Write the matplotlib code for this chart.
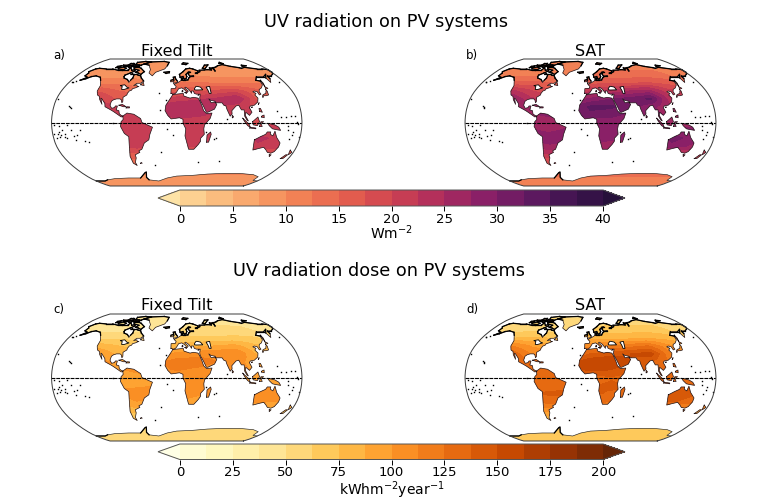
import numpy as np
import matplotlib
matplotlib.use("Agg")
import matplotlib.pyplot as plt
from matplotlib.colors import LinearSegmentedColormap, BoundaryNorm
from matplotlib.cm import ScalarMappable
from matplotlib.path import Path
from matplotlib.patches import PathPatch

LATS = [90, 70, 60, 50, 40, 30, 20, 10, 0, -10, -20, -30, -40, -50, -70, -90]
LONS = [-180, -150, -120, -90, -60, -30, 0, 30, 60, 90, 120, 150, 180]

FIXED_W = [
 [7, 7, 7, 7, 7, 7, 7, 7, 7, 7, 7, 7, 7],
 [8, 8, 8, 8, 8, 8, 8, 8.5, 8.5, 8.5, 8.5, 8, 8],
 [9, 9, 9, 9, 9, 9, 10, 10, 9.5, 9.5, 9.5, 9, 9],
 [11, 11, 12, 12, 11, 12, 13, 13, 12.5, 12.5, 12.5, 12, 11],
 [14, 14, 17, 15, 14, 15, 17, 17, 18, 19, 16, 15, 14],
 [18, 18, 21, 17, 17, 19, 21, 22, 23, 25, 17, 17, 18],
 [20, 20, 21, 21, 20, 23, 25, 25, 23, 21, 19, 19, 20],
 [20, 20, 20, 20, 21, 22, 24, 23, 22, 21, 20, 20, 20],
 [20, 20, 20, 20, 20, 20, 20, 21, 20, 19, 19, 20, 20],
 [21, 21, 21, 21, 20, 21, 21, 22, 21, 21, 21, 21, 21],
 [21, 21, 21, 21, 22, 22, 22, 21, 21, 21, 23, 22, 21],
 [19, 19, 19, 20, 21, 20, 21, 20, 20, 20, 22, 21, 19],
 [16, 16, 16, 17, 17, 17, 17, 17, 17, 17, 17, 17, 16],
 [13, 13, 13, 13, 14, 13, 13, 13, 13, 13, 13, 13, 13],
 [9.5, 9.5, 9.5, 9.5, 9.5, 9.5, 9.5, 9.5, 9.5, 9.5, 9.5, 9.5, 9.5],
 [9.5, 9.5, 9.5, 9.5, 9.5, 9.5, 9.5, 9.5, 9.5, 9.5, 9.5, 9.5, 9.5],
]
SAT_W = [
 [9, 9, 9, 9, 9, 9, 9, 9, 9, 9, 9, 9, 9],
 [11, 11, 11, 11, 11, 11, 11, 12, 12, 12, 12, 11, 11],
 [12, 12, 12, 12, 12, 12, 13, 14, 14, 14, 14, 12, 12],
 [15, 15, 16, 16, 15, 16, 17, 17, 17, 18, 17, 16, 15],
 [18, 18, 23, 20, 18, 20, 22, 23, 25, 26, 21, 19, 18],
 [24, 24, 28, 23, 22, 25, 28, 30, 31, 33, 23, 22, 24],
 [27, 27, 28, 27, 26, 30, 33, 33, 31, 28, 25, 25, 27],
 [27, 27, 27, 27, 28, 29, 32, 31, 29, 28, 27, 27, 27],
 [27, 27, 27, 26, 26, 27, 27, 28, 27, 26, 26, 27, 27],
 [28, 28, 28, 28, 27, 28, 28, 29, 28, 28, 28, 28, 28],
 [28, 28, 28, 28, 29, 29, 29, 28, 28, 28, 31, 29, 28],
 [25, 25, 25, 26, 27, 26, 27, 26, 26, 26, 29, 27, 25],
 [20, 20, 20, 22, 22, 22, 22, 22, 22, 22, 22, 22, 20],
 [17, 17, 17, 17, 18, 17, 17, 17, 17, 17, 17, 17, 17],
 [12.5, 12.5, 12.5, 12.5, 12.5, 12.5, 12.5, 12.5, 12.5, 12.5, 12.5, 12.5, 12.5],
 [12.5, 12.5, 12.5, 12.5, 12.5, 12.5, 12.5, 12.5, 12.5, 12.5, 12.5, 12.5, 12.5],
]
FIXED_D = [
 [38, 38, 38, 38, 38, 38, 38, 38, 38, 38, 38, 38, 38],
 [42, 42, 42, 42, 42, 42, 42, 48, 48, 48, 48, 42, 42],
 [48, 48, 48, 48, 48, 48, 52, 54, 54, 55, 54, 48, 48],
 [55, 55, 58, 60, 58, 60, 65, 65, 65, 66, 66, 60, 55],
 [68, 68, 82, 75, 70, 75, 82, 84, 88, 92, 78, 72, 68],
 [88, 88, 100, 85, 84, 92, 104, 108, 110, 112, 85, 85, 88],
 [98, 98, 102, 100, 98, 110, 118, 118, 112, 102, 95, 95, 98],
 [98, 98, 98, 98, 102, 108, 114, 110, 106, 102, 98, 98, 98],
 [98, 98, 98, 96, 96, 98, 98, 100, 98, 95, 95, 98, 98],
 [100, 100, 100, 100, 98, 100, 102, 106, 102, 100, 100, 100, 100],
 [100, 100, 100, 100, 104, 104, 106, 102, 102, 102, 110, 104, 100],
 [92, 92, 92, 96, 100, 98, 100, 96, 96, 96, 104, 100, 92],
 [78, 78, 78, 82, 84, 82, 84, 82, 82, 82, 84, 82, 78],
 [62, 62, 62, 62, 66, 64, 64, 64, 64, 64, 64, 64, 62],
 [55, 55, 55, 55, 55, 55, 55, 55, 55, 55, 55, 55, 55],
 [55, 55, 55, 55, 55, 55, 55, 55, 55, 55, 55, 55, 55],
]
SAT_D = [
 [45, 45, 45, 45, 45, 45, 45, 45, 45, 45, 45, 45, 45],
 [54, 54, 54, 54, 54, 54, 54, 60, 60, 60, 60, 54, 54],
 [60, 60, 60, 60, 60, 60, 66, 70, 70, 72, 70, 60, 60],
 [72, 72, 76, 78, 74, 78, 84, 84, 84, 86, 84, 78, 72],
 [88, 88, 112, 98, 90, 98, 108, 112, 120, 126, 104, 94, 88],
 [116, 116, 136, 112, 108, 122, 138, 146, 150, 156, 112, 108, 116],
 [130, 130, 136, 130, 128, 146, 160, 160, 150, 136, 122, 122, 130],
 [130, 130, 130, 130, 136, 142, 154, 150, 140, 136, 130, 130, 130],
 [130, 130, 130, 126, 126, 130, 130, 136, 130, 126, 126, 130, 130],
 [134, 134, 134, 134, 130, 134, 136, 140, 136, 134, 134, 134, 134],
 [134, 134, 134, 134, 140, 140, 140, 136, 136, 136, 150, 140, 134],
 [122, 122, 122, 126, 132, 128, 132, 126, 126, 126, 140, 132, 122],
 [98, 98, 98, 106, 108, 106, 108, 106, 106, 106, 108, 106, 98],
 [82, 82, 82, 82, 86, 84, 84, 84, 84, 84, 84, 84, 82],
 [68, 68, 68, 68, 68, 68, 68, 68, 68, 68, 68, 68, 68],
 [68, 68, 68, 68, 68, 68, 68, 68, 68, 68, 68, 68, 68],
]

NORTH_AMERICA = [(-168,66),(-162,70),(-156,71),(-141,70),(-128,70),(-115,68),(-108,68),(-96,68),(-94,72),(-88,68),(-82,69),(-81,67),(-87,64),(-94,61),(-94,59),(-92,57),(-85,55),(-82,53),(-80,51),(-79,54),(-77,57),(-78,62),(-73,62),(-70,61),(-65,60),(-62,57),(-56,53),(-60,50),(-66,50),(-70,47),(-65,48),(-64,46),(-61,46),(-66,44),(-70,43),(-71,41),(-74,40),(-76,37),(-76,35),(-81,32),(-80,27),(-81,25),(-83,29),(-85,30),(-90,30),(-94,29),(-97,27),(-98,22),(-95,18),(-91,19),(-90,21),(-87,21),(-88,16),(-84,15),(-83,11),(-80,9),(-77,8),(-80,7),(-85,10),(-92,14),(-96,16),(-105,20),(-106,24),(-112,30),(-114,31),(-110,23),(-115,29),(-117,33),(-121,35),(-124,40),(-124,47),(-130,54),(-135,58),(-145,60),(-152,59),(-158,56),(-165,54),(-158,58),(-165,60),(-165,64)]
SOUTH_AMERICA = [(-78,8),(-72,12),(-62,10.5),(-52,5),(-50,0),(-35,-6),(-39,-15),(-41,-22),(-48,-26),(-53,-34),(-58,-36),(-57,-38),(-65,-41),(-65,-45),(-69,-51),(-68,-55),(-73,-52),(-74,-43),(-71,-30),(-70,-18),(-76,-14),(-81,-5),(-80,1),(-77,4)]
EURASIA = [(-9,37),(-9,43),(-2,43.5),(-1,46),(-4.5,48.5),(2,51),(4,52),(8,54),(8,57),(10.5,57),(10,54),(14,54),(19,54.5),(21,57),(24,59),(30,60),(23,60),(21,63),(25,65.5),(22,65.5),(17,62),(18,59),(16,56),(13,55.5),(11,59),(6,58),(5,62),(12,66),(18,70),(26,71),(32,70),(41,67),(40,65),(35,64),(38,64),(44,66),(44,68),(54,68.5),(60,69),(68,68.5),(67,72),(73,72),(74,67),(75,72),(81,73),(87,75),(100,77),(113,74),(128,72),(131,71),(140,72.5),(160,70),(170,70),(180,69),(180,65),(178,63),(170,60),(163,60),(162,56),(157,51),(156,57),(163,62),(155,59),(142,59),(135,54),(141,53),(140,48),(135,44),(130,42),(128,39),(129,36),(126,35),(125,39),(121,40),(118,39),(122,37),(119,35),(122,31),(120,26),(114,22),(108,21),(106,19),(109,13),(105,9),(100,13),(99,9),(103,2),(101,3),(98,8),(98,16),(94,16),(91,22),(87,21),(80,15),(80,11),(77,8),(73,17),(72,21),(69,22),(67,25),(58,25),(57,27),(51,28),(48,30),(51,25),(56,26),(59,23),(55,17),(45,13),(43,13),(39,21),(35,28),(34.5,31),(36,36),(30,36),(27,37),(26,40),(23,40),(23,37),(19,42),(14,45),(12.5,44),(18,40),(16,38),(12,42),(8,44),(3,43),(0,39),(-2,37),(-5,36)]
AFRICA = [(-6,35.5),(10,37),(11,33.5),(20,31),(25,32),(32,31),(34,28),(37,21),(39,15),(43,11.5),(51,12),(48,5),(40,-3),(39,-8),(40,-15),(35,-20),(35,-24),(32,-28),(26,-34),(18,-34),(12,-17),(13,-8),(9,-1),(9,4),(4,6),(-8,4.5),(-13,9),(-17,15),(-16,22),(-10,30)]
AUSTRALIA = [(114,-22),(122,-18),(129,-15),(131,-12),(136,-12),(136,-15),(140,-17),(142,-11),(146,-19),(153,-26),(153,-31),(150,-37),(146,-39),(140,-38),(136,-35),(131,-31.5),(124,-33),(116,-35),(115,-31)]
ANTARCTICA = [(-180,-90),(-180,-78),(-160,-78),(-150,-76),(-130,-74),(-100,-73),(-75,-73),(-60,-65),(-57,-64),(-62,-72),(-60,-76),(-40,-78),(-20,-73),(0,-70),(30,-69),(60,-67),(90,-66),(120,-66),(150,-68),(165,-71),(168,-77),(180,-78),(180,-90)]
GREENLAND = [(-73,78),(-60,76),(-52,69),(-52,64),(-44,60),(-40,65),(-24,70),(-20,75),(-18,81),(-30,83),(-60,82)]
ISLANDS = [
 [(-80,73),(-72,71),(-62,66),(-66,62),(-72,64),(-78,65),(-74,68),(-85,70),(-89,73)],
 [(-117,70),(-105,69),(-102,71),(-110,73),(-118,72)],
 [(-125,72),(-118,73),(-118,75),(-124,74)],
 [(-90,76),(-78,76),(-62,82),(-75,83),(-92,81)],
 [(-95,75),(-80,75),(-82,76.5),(-92,77)],
 [(-115,75),(-105,75),(-106,76.5),(-116,76.5)],
 [(-100,73),(-96,72),(-94,74),(-100,75)],
 [(-105,77),(-96,77),(-98,79),(-104,79)],
 [(-82,63),(-80,62),(-84,62)],
 [(12,78),(20,77),(25,79),(15,80)],
 [(52,71),(57,70.5),(68,76.5),(60,76)],
 [(96,79),(105,78.5),(100,81)],
 [(138,74),(148,75),(140,76)],
 [(-24,65),(-14,66),(-14,64.5),(-20,63.5)],
 [(-5,50),(1,51),(1,53),(-2,56),(-3,58.5),(-6,58),(-5,54),(-5,52)],
 [(-10,52),(-6,52),(-6,55),(-10,54)],
 [(-85,22),(-80,23),(-74,20),(-78,20)],
 [(-74,18.5),(-69,18.5),(-69,19.8),(-73,20)],
 [(-59,48),(-53,47),(-56,51.5)],
 [(130,32),(132,34),(136,34),(140,35),(141,40),(140,41),(137,37),(132,35.5),(130,33.5)],
 [(140,42),(145,43.5),(142,45.5)],
 [(142,46),(143.5,50),(143,54),(142,53)],
 [(120,23),(122,25),(121,25)],
 [(109,19),(111,19.5),(110,20)],
 [(120,14),(124,13),(122,18),(120,18)],
 [(122,7),(126,6),(126,9.5),(123,8.5)],
 [(95,5.5),(104,-2),(106,-6),(102,-4),(97,2)],
 [(105,-7),(114,-8),(114,-7),(106,-6)],
 [(109,1),(117,7),(119,1),(116,-4),(110,-3)],
 [(119,-5),(121,1),(125,1),(121,-1),(123,-5)],
 [(131,-1),(141,-3),(147,-6),(150,-10),(143,-9),(138,-8),(133,-4)],
 [(80,6),(82,7),(80,9.5)],
 [(44,-25),(47,-25),(50,-15),(49,-12),(44,-16)],
 [(173,-35),(178,-38),(175,-41),(174,-39)],
 [(167,-46),(171,-46),(174,-41),(171,-41)],
 [(145,-41),(148,-41),(147,-43.5)],
 [(12.5,38),(15.5,38),(15,36.8)],
 [(8.3,39),(9.7,39),(9.5,41),(8.5,41)],
 [(32.5,34.7),(34.5,35.3),(33,35.3)],
 [(-61,-52),(-58,-52),(-59,-51)],
]
LAKES = [
 [(28,41.5),(31,41.3),(41,41.5),(38,45),(33,46),(31,46),(28,43)],
 [(47,45),(53,46),(53,37),(50,37),(49,41)],
 [(-92,47),(-85,48),(-80,45),(-76,44),(-83,42),(-87,42),(-88,46)],
]
DOT_LON = [-156,-155,-158,-91,-28,-16,-24,57,55,70,-37,165,178,160,167,150,158,165,145,-172,-170,-165,-160,-150,-145,-140,-175,-178,-158,-152,-170,-176,-163,-148,-135,-130,73,-175,172,173,-178,175,170,-170,-5,-14,-25,36,43,-170,-176,160,168,-162,-168]
DOT_LAT = [20,19,21,0,38,28,16,-20,-21,-49,-54,-21,-18,-9,-16,7,7,8,15,-14,-5,-10,-20,-17,-16,-9,-20,-15,-3,-10,-12,-3,-19,-22,-24,-25,4,52,52,1,30,-2,8,-18,-16,-8,-38,-50,-12,53,52,-5,-12,-14,-16]

TITLES = ["UV radiation on PV systems", "UV radiation dose on PV systems"]
PANELS = ["a)", "b)", "c)", "d)"]
SUBS = ["Fixed Tilt", "SAT", "Fixed Tilt", "SAT"]
MATTER = ["#fde3a6", "#fbc283", "#f8a167", "#f27f54", "#e55f4e", "#cf4351", "#b02e5c", "#8c2067", "#651a63", "#3f1450", "#26103a"]
TICKS_W = [0, 5, 10, 15, 20, 25, 30, 35, 40]
TICKS_D = [0, 25, 50, 75, 100, 125, 150, 175, 200]

W, H = 763, 500
RX = [1,0.9986,0.9954,0.99,0.9822,0.973,0.96,0.9427,0.9216,0.8962,0.8679,0.835,0.7986,0.7597,0.7186,0.6732,0.6213,0.5722,0.5322]
RY = [0,0.062,0.124,0.186,0.248,0.31,0.372,0.434,0.4958,0.5571,0.6176,0.6769,0.7346,0.7903,0.8435,0.8936,0.9394,0.9761,1.0]
RL = np.arange(0, 95, 5)
XM, YM = 0.8487*np.pi, 1.3523


def proj(lon, lat):
    lon, lat = np.asarray(lon, float), np.asarray(lat, float)
    a = np.abs(lat)
    return XM*np.interp(a, RL, RX)*lon/180, YM*np.interp(a, RL, RY)*np.sign(lat)


def project_poly(pts):
    p = np.array(pts, float)
    x, y = proj(p[:, 0], p[:, 1])
    return np.column_stack([x, y])


LAND = [NORTH_AMERICA, SOUTH_AMERICA, EURASIA, AFRICA, AUSTRALIA, ANTARCTICA, GREENLAND] + ISLANDS
fine_lon = np.linspace(-180, 180, 361)
fine_lat = np.linspace(-90, 90, 181)


def refine(table):
    t = np.array(table, float)[::-1]
    lat = np.array(LATS, float)[::-1]
    a = np.array([np.interp(fine_lat, lat, t[:, j]) for j in range(t.shape[1])]).T
    return np.array([np.interp(fine_lon, LONS, row) for row in a])


def draw_coast(ax, poly):
    p = np.array(list(poly) + [poly[0]], float)
    q = project_poly(p)
    if poly is ANTARCTICA:
        ax.plot(q[1:-2, 0], q[1:-2, 1], color="#222222", lw=0.45)
        ax.plot(q[1:4, 0], q[1:4, 1], color="black", lw=0.9)
        ax.plot(q[6:11, 0], q[6:11, 1], color="black", lw=0.9)
        return
    limit = 74 if poly is GREENLAND else 52
    ax.plot(q[:, 0], q[:, 1], color="#1c1014", lw=0.5)
    for i in range(len(p)-1):
        if p[i, 1] > limit and p[i+1, 1] > limit:
            ax.plot(q[i:i+2, 0], q[i:i+2, 1], color="black", lw=0.9)


def draw_map(box, table, cmap, norm, levels):
    x0, y0, x1, y1 = box
    ax = fig.add_axes([x0/W, 1-y1/H, (x1-x0)/W, (y1-y0)/H])
    ax.set_xlim(-XM, XM)
    ax.set_ylim(-YM, YM)
    ax.axis("off")
    g_lon, g_lat = np.meshgrid(fine_lon, fine_lat)
    gx, gy = proj(g_lon, g_lat)
    cs = ax.contourf(gx, gy, refine(table), levels=levels, cmap=cmap, norm=norm, extend="both")
    paths = []
    for poly in LAND:
        q = project_poly(poly)
        paths.append(Path(np.vstack([q, q[:1]]), closed=True))
    clip = PathPatch(Path.make_compound_path(*paths), transform=ax.transData, fc="none", ec="none")
    ax.add_patch(clip)
    cs.set_clip_path(clip)
    for poly in LAND:
        draw_coast(ax, poly)
    for poly in LAKES:
        q = project_poly(poly)
        ax.fill(q[:, 0], q[:, 1], fc="white", ec="black", lw=0.6)
    dx, dy = proj(DOT_LON, DOT_LAT)
    ax.plot(dx, dy, ls="none", marker="s", ms=1.0, color="black", mew=0)
    ax.plot(*proj([-180, 180], [0, 0]), color="black", lw=0.8, ls=(0, (3.5, 0.8)))
    elat = np.linspace(-90, 90, 181)
    ex, ey = proj(np.full_like(elat, 180), elat)
    ox = np.concatenate([ex, -ex[::-1], ex[:1]])
    oy = np.concatenate([ey, ey[::-1], ey[:1]])
    ax.plot(ox, oy, color="#3a3a3a", lw=0.7, clip_on=False)
    return ax


def draw_bar(box, cmap, norm, ticks, label, label_y):
    x0, y0, x1, y1 = box
    cax = fig.add_axes([x0/W, 1-y1/H, (x1-x0)/W, (y1-y0)/H])
    sm = ScalarMappable(norm=norm, cmap=cmap)
    cb = fig.colorbar(sm, cax=cax, orientation="horizontal", extend="both", extendfrac=0.0516, drawedges=False, ticks=ticks)
    cb.ax.tick_params(labelsize=9.5, length=3.5, width=0.7, pad=1.5)
    cb.ax.minorticks_off()
    cb.outline.set_linewidth(0.7)
    cb.outline.set_edgecolor("#555555")
    fig.text(391.5/W, 1-label_y/H, label, ha="center", va="center", fontsize=10)


fig = plt.figure(figsize=(W/100, H/100), dpi=100)

levels_w = np.arange(0, 42.5, 2.5)
levels_d = np.arange(0, 212.5, 12.5)
base_w = LinearSegmentedColormap.from_list("matter", MATTER)
base_d = plt.get_cmap("YlOrBr")
cols_w = base_w(np.linspace(0, 1, len(levels_w)+1))
cols_d = base_d(np.linspace(0, 1, len(levels_d)+1))
cmap_w = matplotlib.colors.ListedColormap(cols_w[1:-1]).with_extremes(under=cols_w[0], over=cols_w[-1])
cmap_d = matplotlib.colors.ListedColormap(cols_d[1:-1]).with_extremes(under=cols_d[0], over=cols_d[-1])
norm_w = BoundaryNorm(levels_w, len(levels_w)-1)
norm_d = BoundaryNorm(levels_d, len(levels_d)-1)

boxes = [(51.5, 59, 302, 186), (465, 59, 716, 186), (51.5, 314, 302, 441), (465, 314, 716, 441)]
tables = [FIXED_W, SAT_W, FIXED_D, SAT_D]
sub_xy = [(177, 51), (590, 51), (177, 305), (590, 305)]
lab_xy = [(53, 56), (466, 56), (53, 310), (466, 310)]
for i in range(4):
    c, n, l = (cmap_w, norm_w, levels_w) if i < 2 else (cmap_d, norm_d, levels_d)
    draw_map(boxes[i], tables[i], c, n, l)
    fig.text(sub_xy[i][0]/W, 1-sub_xy[i][1]/H, SUBS[i], ha="center", va="center", fontsize=11.5)
    fig.text(lab_xy[i][0]/W, 1-lab_xy[i][1]/H, PANELS[i], ha="left", va="center", fontsize=8.5)

fig.text(386.5/W, 1-22/H, TITLES[0], ha="center", va="center", fontsize=12.7)
fig.text(378.5/W, 1-270.5/H, TITLES[1], ha="center", va="center", fontsize=12.7)
draw_bar((158, 190, 625, 206), cmap_w, norm_w, TICKS_W, "Wm$^{-2}$", 233)
draw_bar((158, 444, 625, 459.5), cmap_d, norm_d, TICKS_D, "kWhm$^{-2}$year$^{-1}$", 490)

fig.savefig("out.png", dpi=100)
